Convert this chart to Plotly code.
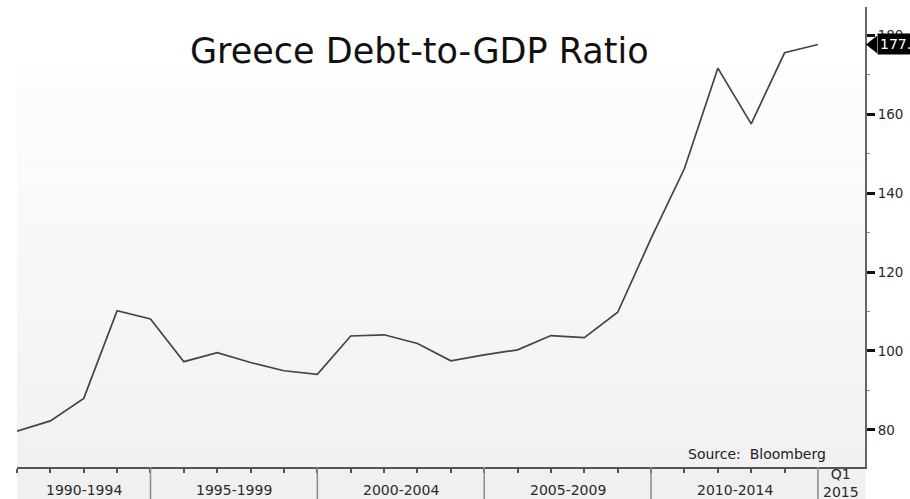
import plotly.graph_objects as go

# ---- data ----
years = list(range(1990, 2015))
debt_to_gdp = [79.7, 82.3, 88.0, 110.2, 108.1, 97.3, 99.6, 97.1, 95.0, 94.1,
               103.8, 104.1, 101.9, 97.5, 99.0, 100.3, 103.9, 103.4, 109.8, 128.5,
               146.2, 171.6, 157.5, 175.5, 177.6]
group_labels = ["1990-1994", "1995-1999", "2000-2004", "2005-2009", "2010-2014", "Q1<br>2015"]
group_bounds = [(1991, 1995), (1995, 2000), (2000, 2005), (2005, 2010), (2010, 2015), (2015, 2016.41)]
y_ticks = [80, 100, 120, 140, 160, 180]
title_text = "Greece Debt-to-GDP Ratio"
source_text = "Source:  Bloomberg"
last_label = "177.6"

# annual values are plotted at the end of each year
xpos = [y + 1 for y in years]

W, H = 910, 499
ml, mr, mt, mb = 17, 45, 7, 32
plot_h = H - mt - mb
plot_w = W - ml - mr

fig = go.Figure()
fig.add_trace(go.Scatter(x=xpos, y=debt_to_gdp, mode="lines",
                         line=dict(color="#444444", width=1.7),
                         hoverinfo="skip", showlegend=False))

shapes = []
# gradient background in plot area
top_white = 1 - (70 - mt) / plot_h
N = 40
c_top, c_bot = 253, 241
for i in range(N):
    y0 = top_white * i / N
    y1 = top_white * (i + 1) / N
    c = round(c_bot + (c_top - c_bot) * (i + 0.5) / N)
    shapes.append(dict(type="rect", xref="paper", yref="paper", x0=0, x1=1, y0=y0, y1=y1,
                       fillcolor=f"rgb({c},{c},{c})", line=dict(width=0), layer="below"))
# x label band
band = -(mb) / plot_h
shapes.append(dict(type="rect", xref="paper", yref="paper", x0=0, x1=1, y0=band, y1=0,
                   fillcolor="#f0f0f0", line=dict(width=0), layer="below"))
# group separators
for lo, hi in group_bounds[1:]:
    shapes.append(dict(type="line", xref="x", yref="paper", x0=lo, x1=lo, y0=0, y1=band,
                       line=dict(color="#8a8a8a", width=1.5)))
# pointer for last value label
px = 1 / plot_w
shapes.append(dict(type="path", xref="paper", yref="y",
                   path=f"M {1+1*px},{debt_to_gdp[-1]} L {1+12*px},{debt_to_gdp[-1]+2.2} L {1+12*px},{debt_to_gdp[-1]-2.2} Z",
                   fillcolor="black", line=dict(width=0)))

annotations = []
for (lo, hi), lab in zip(group_bounds, group_labels):
    is_q = "<br>" in lab
    annotations.append(dict(text=lab, xref="x", yref="paper", x=(lo + hi) / 2,
                            y=-(483 - (H - mb)) / plot_h if is_q else -(490 - (H - mb)) / plot_h,
                            xanchor="center", yanchor="middle", showarrow=False,
                            font=dict(family="DejaVu Sans", size=14, color="#2a2a2a")))
annotations.append(dict(text=title_text, xref="paper", yref="paper",
                        x=(419 - ml) / plot_w, y=1 - (51 - mt) / plot_h,
                        xanchor="center", yanchor="middle", showarrow=False,
                        font=dict(family="DejaVu Sans", size=35, color="#111111")))
annotations.append(dict(text=source_text, xref="paper", yref="paper",
                        x=(757 - ml) / plot_w, y=(H - mb - 454) / plot_h,
                        xanchor="center", yanchor="middle", showarrow=False,
                        font=dict(family="DejaVu Sans", size=14, color="#222222")))
annotations.append(dict(text=last_label, xref="paper", yref="y", x=1, y=debt_to_gdp[-1],
                        xanchor="left", yanchor="middle", xshift=12, showarrow=False,
                        bgcolor="black", borderpad=2,
                        font=dict(family="DejaVu Sans", size=14, color="white")))

fig.update_layout(
    width=W, height=H,
    margin=dict(l=ml, r=mr, t=mt, b=mb, pad=0),
    paper_bgcolor="white", plot_bgcolor="white",
    shapes=shapes, annotations=annotations,
    xaxis=dict(range=[1991, 2016.41], showgrid=False, zeroline=False,
               showline=True, linecolor="#555555", linewidth=1.5,
               tickmode="array", tickvals=list(range(1991, 2015)),
               ticks="outside", ticklen=4, tickwidth=1.5, tickcolor="#555555",
               showticklabels=False, fixedrange=True),
    yaxis=dict(side="right", range=[70.63, 187.09], showgrid=False, zeroline=False,
               showline=True, linecolor="#666666", linewidth=2,
               tickmode="array", tickvals=y_ticks,
               ticks="outside", ticklen=8, tickwidth=2.5, tickcolor="#111111",
               minor=dict(tickmode="array", tickvals=[90, 110, 130, 150, 170],
                          ticks="outside", ticklen=3, tickwidth=1, tickcolor="#888888"),
               tickfont=dict(family="DejaVu Sans", size=13.5, color="#2a2a2a"),
               fixedrange=True),
)

fig.write_html("out.html")
